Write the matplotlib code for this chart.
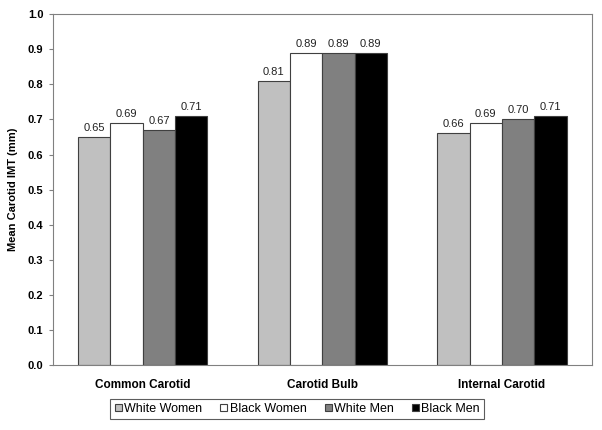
import matplotlib.pyplot as plt
import numpy as np

plt.rcParams['font.family'] = ['Liberation Sans', 'DejaVu Sans']

sites = ["Common Carotid", "Carotid Bulb", "Internal Carotid"]
groups = ["White Women", "Black Women", "White Men", "Black Men"]
white_women = [0.65, 0.81, 0.66]
black_women = [0.69, 0.89, 0.69]
white_men = [0.67, 0.89, 0.70]
black_men = [0.71, 0.89, 0.71]
colors = ["#c0c0c0", "#ffffff", "#808080", "#000000"]

series = [white_women, black_women, white_men, black_men]

fig = plt.figure(figsize=(6.02, 4.30), dpi=100)
ax = fig.add_axes([0.088, 0.151, 0.895, 0.816])

x = np.arange(len(sites))
w = 0.18
for i, (vals, name, c) in enumerate(zip(series, groups, colors)):
    pos = x + (i - 1.5) * w
    bars = ax.bar(pos, vals, w, color=c, edgecolor="#404040", linewidth=0.8, label=name)
    for b, v in zip(bars, vals):
        ax.text(b.get_x() + b.get_width() / 2, v + 0.012, f"{v:.2f}",
                ha="center", va="bottom", fontsize=8, color="#222222")

ax.set_xlim(-0.5, 2.5)
ax.set_ylim(0, 1.0)
ax.set_yticks(np.arange(0, 1.01, 0.1))
ax.set_yticklabels([f"{t:.1f}" for t in np.arange(0, 1.01, 0.1)], fontweight="bold", fontsize=8)
ax.set_xticks(x)
ax.set_xticklabels(sites, fontweight="bold", fontsize=8.5)
ax.tick_params(axis="x", length=0, pad=10)
ax.tick_params(axis="y", length=3, color="#808080", pad=4)
ax.set_ylabel("Mean Carotid IMT (mm)", fontweight="bold", fontsize=8, labelpad=7)
for s in ax.spines.values():
    s.set_color("#808080")

leg = fig.legend(loc="center", bbox_to_anchor=(0.494, 0.049), ncol=4, fontsize=9,
                 frameon=True, fancybox=False, edgecolor="#333333",
                 handlelength=0.55, handleheight=0.55, handletextpad=0.2,
                 columnspacing=1.45, borderpad=0.35)
leg.get_frame().set_linewidth(0.8)

fig.savefig("out.png", dpi=100)
